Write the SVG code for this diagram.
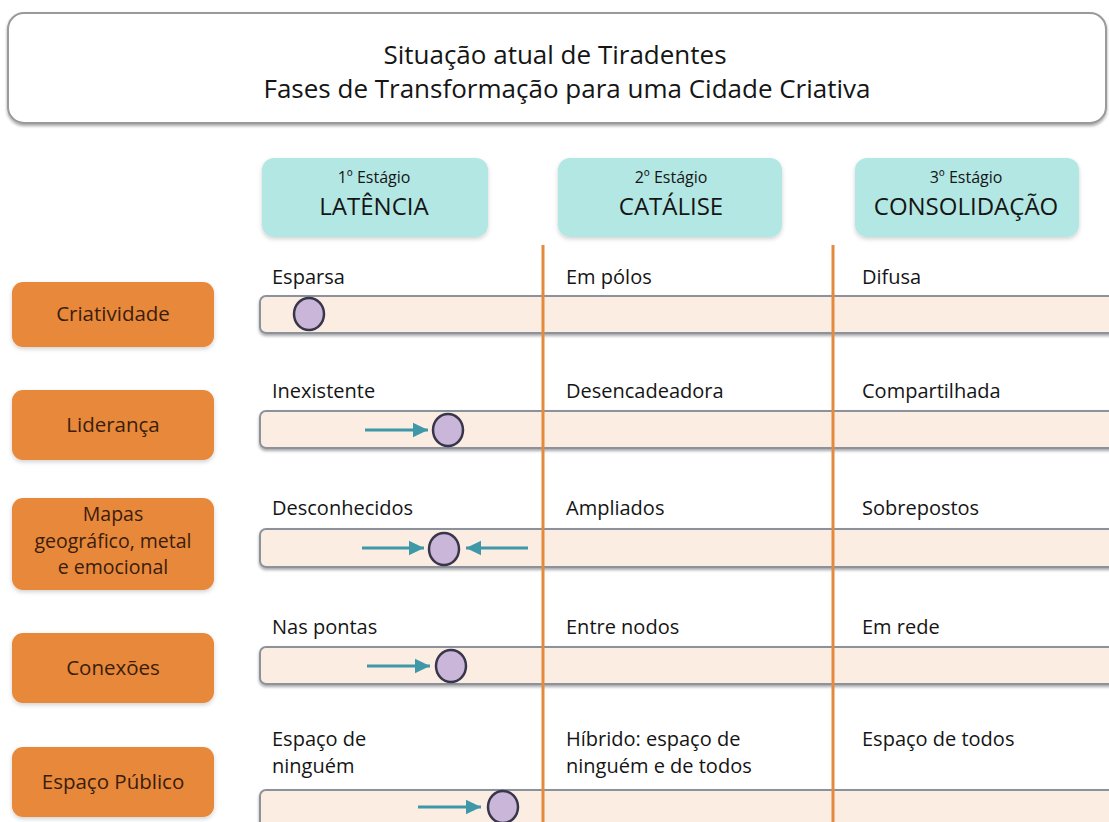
<svg xmlns="http://www.w3.org/2000/svg" width="1109" height="822" viewBox="0 0 1109 822">
<defs>
<filter id="sh" x="-10%" y="-20%" width="120%" height="160%">
<feDropShadow dx="0" dy="2" stdDeviation="1.5" flood-color="#000" flood-opacity="0.35"/>
</filter>
<filter id="soft" x="-10%" y="-20%" width="120%" height="160%">
<feDropShadow dx="0" dy="2" stdDeviation="2" flood-color="#000" flood-opacity="0.18"/>
</filter>
<marker id="ah" markerWidth="6" markerHeight="6" refX="5" refY="3" orient="auto" markerUnits="strokeWidth">
<path d="M0,0.6 L5,3 L0,5.4 Z" fill="#3f98a8"/>
</marker>
<style>
text{font-family:"Open Sans","Noto Sans","Liberation Sans",sans-serif;fill:#151515}
.title{font-size:26px;text-anchor:middle}
.stg{fill:#b3e7e3;filter:url(#soft)}
.s1{font-size:16px;text-anchor:middle}
.s2{font-size:24px;text-anchor:middle}
.lab{fill:#e8883b;filter:url(#soft)}
.lt{font-size:20.5px;text-anchor:middle;fill:#3a1d0c}
.lt3{font-size:19.5px;text-anchor:middle;fill:#3a1d0c}
.bar{fill:#fcede3;stroke:#8c929c;stroke-width:2;filter:url(#sh)}
.cell{font-size:20px}
.dot{fill:#c9b6d8;stroke:#38364a;stroke-width:2.5}
.arr{stroke:#3f98a8;stroke-width:3;fill:none;marker-end:url(#ah)}
.vl{stroke:#e38a3c;stroke-width:3}
</style>
</defs>

<g id="title">
<rect x="8" y="13" width="1098" height="110" rx="16" fill="#fff" stroke="#9a9a9a" stroke-width="2" filter="url(#sh)"/>
<text class="title" x="555" y="64">Situação atual de Tiradentes</text>
<text class="title" x="567" y="98">Fases de Transformação para uma Cidade Criativa</text>
</g>

<g id="stage1">
<rect class="stg" x="262" y="158" width="226" height="79" rx="12"/>
<text class="s1" x="374" y="183">1º Estágio</text>
<text class="s2" x="374" y="215">LATÊNCIA</text>
</g>
<g id="stage2">
<rect class="stg" x="558" y="158" width="224" height="79" rx="12"/>
<text class="s1" x="671" y="183">2º Estágio</text>
<text class="s2" x="671" y="215">CATÁLISE</text>
</g>
<g id="stage3">
<rect class="stg" x="855" y="158" width="224" height="79" rx="12"/>
<text class="s1" x="966" y="183">3º Estágio</text>
<text class="s2" x="966" y="215">CONSOLIDAÇÃO</text>
</g>

<g id="bars">
<rect class="bar" x="260" y="296" width="870" height="37" rx="6"/>
<rect class="bar" x="260" y="411" width="870" height="37" rx="6"/>
<rect class="bar" x="260" y="529" width="870" height="38" rx="6"/>
<rect class="bar" x="260" y="647" width="870" height="37" rx="6"/>
<rect class="bar" x="260" y="790" width="870" height="42" rx="6"/>
</g>

<g id="dividers">
<line class="vl" x1="543" y1="245" x2="543" y2="822"/>
<line class="vl" x1="833" y1="245" x2="833" y2="822"/>
</g>

<g id="row-criatividade">
<rect class="lab" x="12" y="282" width="202" height="65" rx="11"/>
<text class="lt" x="113" y="321">Criatividade</text>
<text class="cell" x="272" y="284">Esparsa</text>
<text class="cell" x="566" y="284">Em pólos</text>
<text class="cell" x="862" y="284">Difusa</text>
</g>

<g id="row-lideranca">
<rect class="lab" x="12" y="390" width="202" height="70" rx="11"/>
<text class="lt" x="113" y="432">Liderança</text>
<text class="cell" x="272" y="398">Inexistente</text>
<text class="cell" x="566" y="398">Desencadeadora</text>
<text class="cell" x="862" y="398">Compartilhada</text>
</g>

<g id="row-mapas">
<rect class="lab" x="12" y="498" width="202" height="92" rx="11"/>
<text class="lt3" x="113" y="521">Mapas</text>
<text class="lt3" x="113" y="547.5">geográfico, metal</text>
<text class="lt3" x="113" y="574">e emocional</text>
<text class="cell" x="272" y="515">Desconhecidos</text>
<text class="cell" x="566" y="515">Ampliados</text>
<text class="cell" x="862" y="515">Sobrepostos</text>
</g>

<g id="row-conexoes">
<rect class="lab" x="12" y="633" width="202" height="70" rx="11"/>
<text class="lt" x="113" y="675">Conexões</text>
<text class="cell" x="272" y="634">Nas pontas</text>
<text class="cell" x="566" y="634">Entre nodos</text>
<text class="cell" x="862" y="634">Em rede</text>
</g>

<g id="row-espaco">
<rect class="lab" x="12" y="747" width="202" height="70" rx="11"/>
<text class="lt" x="113" y="789">Espaço Público</text>
<text class="cell" x="272" y="746">Espaço de</text>
<text class="cell" x="272" y="773">ninguém</text>
<text class="cell" x="566" y="746">Híbrido: espaço de</text>
<text class="cell" x="566" y="773">ninguém e de todos</text>
<text class="cell" x="862" y="746">Espaço de todos</text>
</g>

<g id="connectors">
<line class="arr" x1="365" y1="430" x2="428" y2="430"/>
<line class="arr" x1="362" y1="548" x2="424" y2="548"/>
<line class="arr" x1="528" y1="548" x2="466" y2="548"/>
<line class="arr" x1="367" y1="666" x2="430" y2="666"/>
<line class="arr" x1="418" y1="807" x2="481" y2="807"/>
</g>

<g id="markers">
<ellipse class="dot" cx="309" cy="314" rx="15" ry="16"/>
<ellipse class="dot" cx="448" cy="430" rx="15" ry="16"/>
<ellipse class="dot" cx="444" cy="549" rx="15" ry="16"/>
<ellipse class="dot" cx="451" cy="666" rx="15" ry="16"/>
<ellipse class="dot" cx="503" cy="807" rx="15" ry="16"/>
</g>
</svg>
